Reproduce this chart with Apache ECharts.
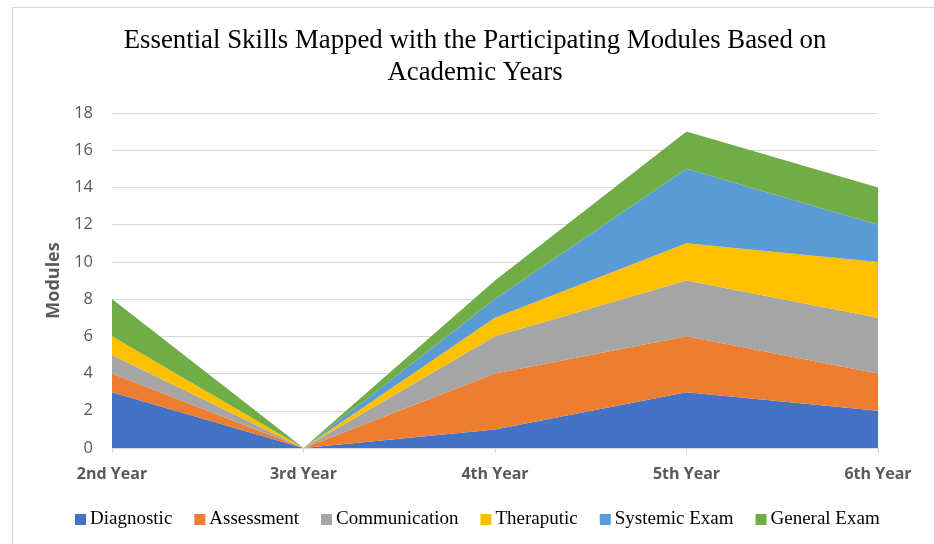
<!DOCTYPE html>
<html>
<head>
<meta charset="utf-8">
<script src="https://cdn.jsdelivr.net/npm/echarts@6/dist/echarts.min.js"></script>
<style>
html,body{margin:0;padding:0;background:#fff;}
#frame{position:absolute;left:12px;top:7px;width:940px;height:560px;border-left:1px solid #d9d9d9;border-top:1px solid #d9d9d9;}
#chart{position:absolute;left:0;top:0;width:934px;height:544px;}
</style>
</head>
<body>
<div id="frame"></div>
<div id="chart"></div>
<script>
const categories = ['2nd Year', '3rd Year', '4th Year', '5th Year', '6th Year'];
const diagnostic = [3, 0, 1, 3, 2];
const assessment = [1, 0, 3, 3, 2];
const communication = [1, 0, 2, 3, 3];
const theraputic = [1, 0, 1, 2, 3];
const systemicExam = [0, 0, 1, 4, 2];
const generalExam = [2, 0, 1, 2, 2];
const yTicks = [0, 2, 4, 6, 8, 10, 12, 14, 16, 18];

const seriesDefs = [
  ['Diagnostic', diagnostic, '#4472C4'],
  ['Assessment', assessment, '#ED7D31'],
  ['Communication', communication, '#A5A5A5'],
  ['Theraputic', theraputic, '#FFC000'],
  ['Systemic Exam', systemicExam, '#5B9BD5'],
  ['General Exam', generalExam, '#70AD47']
];

const chart = echarts.init(document.getElementById('chart'), null, {renderer: 'canvas'});
chart.setOption({
  animation: false,
  backgroundColor: 'transparent',
  title: {
    text: 'Essential Skills Mapped with the Participating Modules Based on\nAcademic Years',
    left: 475,
    top: 25,
    padding: 0,
    textAlign: 'center',
    textStyle: {
      fontFamily: '"Liberation Serif", "Times New Roman", serif',
      fontWeight: 'normal',
      fontSize: 26.8,
      lineHeight: 32,
      color: '#000'
    }
  },
  legend: {
    left: 75,
    top: 510,
    padding: 0,
    itemWidth: 11,
    itemHeight: 11,
    itemGap: 22,
    icon: 'rect',
    textStyle: {
      fontFamily: '"Liberation Serif", "Times New Roman", serif',
      fontSize: 19,
      color: '#000',
      padding: [0, 0, 0, -1]
    },
    data: seriesDefs.map(d => d[0])
  },
  grid: {left: 112, right: 56, top: 113, bottom: 96, containLabel: false},
  xAxis: {
    type: 'category',
    data: categories,
    boundaryGap: false,
    axisLine: {lineStyle: {color: '#d9d9d9', width: 1}},
    axisTick: {show: true, alignWithLabel: true, length: 5, lineStyle: {color: '#d9d9d9'}},
    axisLabel: {
      margin: 18,
      fontFamily: '"Open Sans", sans-serif',
      fontWeight: 'bold',
      fontSize: 16,
      color: '#595959'
    },
    splitLine: {show: false}
  },
  yAxis: {
    type: 'value',
    min: yTicks[0],
    max: yTicks[yTicks.length - 1],
    interval: yTicks[1] - yTicks[0],
    name: 'Modules',
    nameLocation: 'middle',
    nameGap: 48,
    nameTextStyle: {
      fontFamily: '"Open Sans", sans-serif',
      fontWeight: 'bold',
      fontSize: 18,
      color: '#595959'
    },
    axisLine: {show: false},
    axisTick: {show: false},
    axisLabel: {
      margin: 19,
      fontFamily: '"Open Sans", sans-serif',
      fontSize: 16.5,
      color: '#595959'
    },
    splitLine: {lineStyle: {color: '#d9d9d9', width: 1}}
  },
  series: seriesDefs.map(d => ({
    name: d[0],
    type: 'line',
    stack: 'total',
    data: d[1],
    symbol: 'none',
    showSymbol: false,
    lineStyle: {width: 0, color: d[2]},
    itemStyle: {color: d[2]},
    areaStyle: {color: d[2], opacity: 1},
    emphasis: {disabled: true}
  }))
});
</script>
</body>
</html>
